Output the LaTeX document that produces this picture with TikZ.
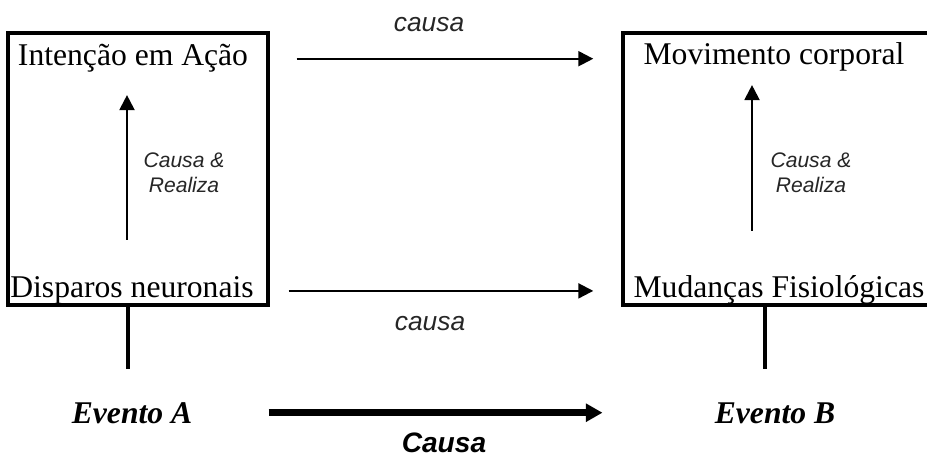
\documentclass[tikz,border=0pt]{standalone}
\usepackage{fontspec}
\setmainfont{Liberation Serif}
\setsansfont{Liberation Sans}
\usetikzlibrary{arrows.meta}

\tikzset{
  caixa/.style={draw, line width=2pt, inner sep=0pt},
  rotulo/.style={font=\fontsize{18}{21}\selectfont, inner sep=0pt, anchor=base},
  evento/.style={font=\fontsize{18}{21}\selectfont\bfseries\itshape, inner sep=0pt, anchor=base},
  causa/.style={font=\sffamily\itshape\fontsize{15}{18}\selectfont, text=black!85, inner sep=0pt, anchor=base},
  realiza/.style={font=\sffamily\itshape\fontsize{12}{14.2}\selectfont, align=center, text=black!85, inner sep=0pt},
  seta/.style={-{Triangle[length=8.5pt,width=8.5pt]}, line width=1.2pt},
  setagrande/.style={-{Triangle[length=9.5pt,width=10pt]}, line width=4pt},
  ligacao/.style={line width=2pt},
}

\begin{document}
\begin{tikzpicture}[x=0.02cm, y=-0.02cm]

\useasboundingbox (0,0) rectangle (927,459);

% as duas caixas
\node[caixa, minimum width=5.2cm, minimum height=5.44cm] (boxA) at (138,169) {};
\node[caixa, minimum width=6.12cm, minimum height=5.44cm] (boxB) at (776,169) {};

\node[rotulo] (intencao) at (133,66) {Intenção em Ação};
\node[rotulo] (disparos) at (132,298) {Disparos neuronais};
\node[rotulo] (movimento) at (774,65) {Movimento corporal};
\node[rotulo] (mudancas) at (779,298) {Mudanças Fisiológicas};

% causa & realiza
\coordinate (baseA) at (127,240);
\coordinate (baseB) at (752,231);
\draw[seta, shorten >=0.44cm] (baseA) -- (baseA |- intencao.south);
\draw[seta, shorten >=0.26cm] (baseB) -- (baseB |- movimento.south);
\node[realiza] (realizaA) at (184,173) {Causa \&\\Realiza};
\node[realiza] (realizaB) at (811,173) {Causa \&\\Realiza};

% setas entre as caixas
\draw[seta, shorten <=0.54cm, shorten >=0.56cm] (boxA.east |- intencao) -- (boxB.west |- intencao);
\draw[seta, shorten <=0.38cm, shorten >=0.56cm] (boxA.east |- disparos) -- (boxB.west |- disparos);
\node[causa] (causaCima) at (429,32) {causa};
\node[causa] (causaBaixo) at (430,331) {causa};

% eventos
\node[evento] (eventoA) at (132,423) {Evento A};
\node[evento] (eventoB) at (775,423) {Evento B};
\coordinate (fimA) at (128,369);
\coordinate (fimB) at (765,369);
\draw[ligacao] (boxA.south -| fimA) -- (fimA);
\draw[ligacao] (boxB.south -| fimB) -- (fimB);

\draw[setagrande, shorten <=1.52cm, shorten >=2.24cm] (eventoA.east) -- (eventoA.east -| eventoB.west);
\node[causa, font=\sffamily\bfseries\itshape\fontsize{16}{19}\selectfont, text=black] (causaGrande) at (444,453) {Causa};

\end{tikzpicture}
\end{document}
